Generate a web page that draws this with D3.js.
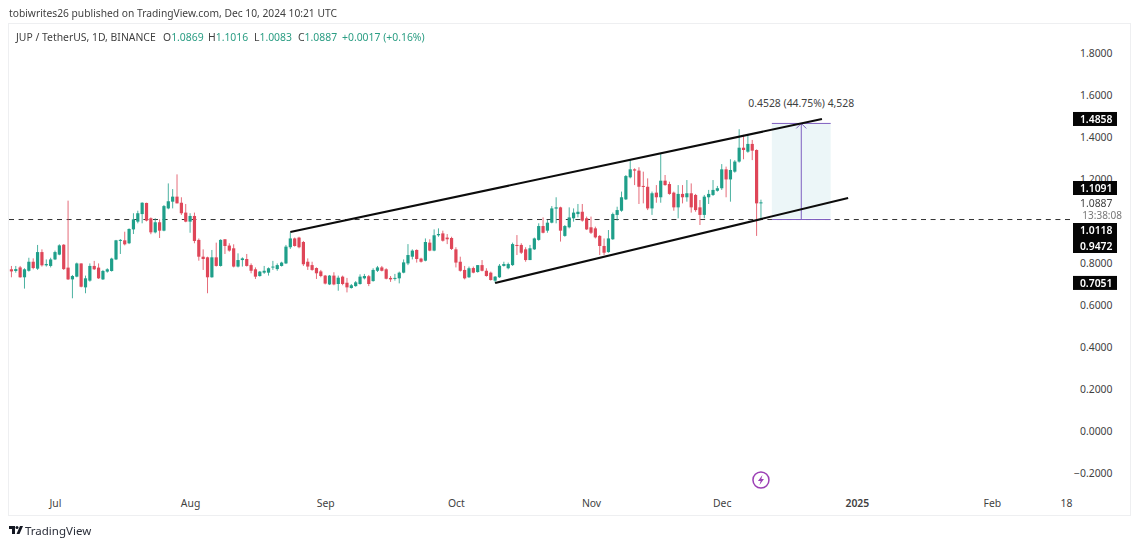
<!DOCTYPE html>
<html><head><meta charset="utf-8">
<style>
html,body{margin:0;padding:0;background:#fff;width:1140px;height:547px;overflow:hidden}
svg{display:block;font-family:"Noto Sans",sans-serif;filter:blur(.3px)}
</style>
<script src="https://cdn.jsdelivr.net/npm/d3@7"></script>
</head><body><svg id="c" width="1140" height="547"></svg>
<script>
const firstCandle = "2024-06-21";
const opens = [.770,.762,.779,.732,.763,.806,.773,.852,.789,.786,.817,.840,.887,.778,.722,.735,.798,.684,.716,.786,
.778,.722,.759,.762,.817,.908,.908,.894,.960,.997,1.033,1.086,1.013,.946,.994,.954,1.060,1.092,1.116,1.087,
1.040,.997,1.024,.910,.830,.827,.732,.827,.786,.913,.883,.870,.783,.814,.819,.790,.770,.738,.754,.754,
.779,.771,.786,.798,.875,.917,.921,.900,.806,.790,.776,.760,.740,.698,.740,.700,.735,.706,.681,.690,
.700,.727,.737,.714,.763,.779,.770,.729,.725,.727,.754,.798,.830,.862,.821,.811,.897,.859,.932,.941,
.921,.919,.865,.806,.767,.732,.776,.757,.790,.763,.754,.716,.732,.786,.775,.790,.886,.886,.865,.814,
.865,.910,.976,.954,.992,1.059,1.065,.929,.970,1.013,1.033,1.044,1.013,.970,.965,.929,.881,.852,.913,1.029,
1.049,1.103,1.208,1.246,1.240,1.167,1.163,1.060,1.135,1.113,1.192,1.176,1.135,1.065,1.129,1.113,1.132,1.124,1.065,1.029,
1.113,1.124,1.144,1.156,1.246,1.198,1.235,1.283,1.349,1.330,1.367,1.338,1.0869];
const highs = [.786,.786,.786,.775,.825,.822,.886,.865,.817,.825,.859,.889,.890,1.097,.743,.802,.798,.740,.798,.810,
.798,.767,.775,.825,.910,.914,.949,.965,1.037,1.049,1.089,1.087,1.017,1.013,1.008,1.076,1.179,1.152,1.222,1.113,
1.081,1.037,1.040,.917,.865,.830,.862,.897,.913,.913,.894,.889,.846,.827,.843,.798,.779,.762,.786,.779,
.810,.798,.806,.886,.946,.921,.925,.905,.822,.806,.779,.767,.743,.743,.756,.740,.740,.729,.700,.714,
.746,.748,.743,.775,.786,.786,.775,.738,.748,.759,.817,.890,.865,.865,.825,.917,.913,.960,.965,.954,
.938,.925,.875,.830,.786,.783,.783,.790,.814,.775,.759,.738,.795,.806,.802,.897,.933,.894,.875,.886,
.921,.989,1.017,1.005,1.071,1.113,1.068,.981,1.065,1.060,1.081,1.081,1.021,1.021,.973,.933,.917,.957,1.040,1.068,
1.140,1.219,1.294,1.251,1.256,1.235,1.203,1.140,1.171,1.322,1.219,1.187,1.140,1.171,1.171,1.195,1.179,1.129,1.100,1.124,
1.148,1.195,1.167,1.271,1.259,1.294,1.290,1.437,1.410,1.410,1.386,1.341,1.1016];
const lows = [.732,.754,.730,.678,.759,.770,.767,.783,.783,.779,.814,.837,.767,.719,.632,.732,.684,.656,.711,.767,
.724,.719,.754,.759,.814,.843,.884,.890,.938,.989,.989,.998,.937,.941,.919,.951,1.056,1.060,1.084,1.029,
.994,.944,.894,.811,.767,.656,.730,.783,.783,.843,.854,.779,.779,.783,.783,.751,.724,.735,.748,.740,
.767,.763,.783,.795,.867,.878,.870,.786,.767,.763,.724,.732,.698,.695,.694,.668,.694,.660,.678,.687,
.697,.722,.690,.711,.757,.760,.722,.710,.716,.703,.751,.790,.817,.802,.802,.808,.856,.856,.925,.902,
.890,.862,.779,.759,.722,.729,.751,.754,.760,.735,.716,.706,.729,.783,.770,.786,.838,.843,.806,.814,
.862,.906,.941,.944,.989,.989,.902,.925,.965,.997,1.017,.997,.957,.938,.917,.838,.838,.849,.910,1.002,
1.044,1.100,1.203,1.171,1.081,1.084,1.052,1.029,1.087,1.087,1.168,1.125,1.049,1.013,1.084,1.092,1.040,1.044,.981,1.013,
1.081,1.119,1.140,1.148,1.113,1.092,1.230,1.278,1.294,1.325,1.290,.929,1.0083];
const closes = [.760,.771,.732,.770,.806,.776,.852,.789,.795,.817,.852,.884,.771,.722,.738,.798,.687,.727,.786,.770,
.727,.762,.770,.821,.908,.910,.889,.962,1.008,1.037,1.087,1.002,.946,.994,.954,1.071,1.094,1.116,1.084,1.037,
.997,1.024,.905,.830,.819,.732,.827,.786,.910,.881,.859,.783,.814,.822,.786,.763,.735,.759,.763,.775,
.783,.790,.802,.878,.917,.881,.875,.794,.783,.767,.751,.738,.702,.740,.698,.730,.700,.684,.694,.708,
.735,.738,.700,.767,.779,.763,.725,.722,.729,.754,.803,.838,.859,.819,.806,.900,.859,.932,.938,.906,
.913,.867,.802,.763,.727,.775,.754,.790,.763,.738,.719,.735,.787,.795,.795,.890,.881,.849,.814,.870,
.917,.976,.944,.992,1.060,1.065,.954,.976,1.017,1.040,1.044,1.002,.960,.944,.922,.881,.849,.917,1.033,1.052,
1.113,1.214,1.246,1.240,1.163,1.163,1.060,1.132,1.113,1.192,1.171,1.129,1.065,1.129,1.113,1.132,1.065,1.052,1.029,1.116,
1.129,1.148,1.156,1.246,1.198,1.243,1.283,1.349,1.338,1.367,1.335,1.084,1.0887];

const priceTicks = [1.8,1.6,1.4,1.2,0.8,0.6,0.4,0.2,0,-0.2];
const timeTicks = ["2024-07-01","2024-08-01","2024-09-01","2024-10-01","2024-11-01","2024-12-01","2025-01-01","2025-02-01","2025-02-18"];
const timeLabels = ["Jul","Aug","Sep","Oct","Nov","Dec","2025","Feb","18"];
const upperChannel = [["2024-08-24",0.9472],["2024-12-24",1.4858]];
const lowerChannel = [["2024-10-10",0.7051],["2024-12-30",1.1091]];
const measureFrom = 1.0118, measureTo = 1.4646;
const measureDates = ["2024-12-12T12:00","2024-12-26T00:00"];
const lastClose = 1.0887;

const parse = s => new Date(s.length>10 ? s : s+"T00:00");
const x = d3.scaleTime().domain([parse("2024-07-01"),parse("2025-02-18")]).range([55,1066]);
const y = d3.scaleLinear().domain([-0.2,1.8]).range([473,53]);
const svg = d3.select("#c");
const GREEN="#1f9f8a", RED="#df4658", INK="#3f3f3f";

// panel frame
svg.append("rect").attr("x",8.5).attr("y",23.5).attr("width",1122).attr("height",492)
  .attr("fill","#fff").attr("stroke","#eeeff1");

// measure box
const mx0=x(parse(measureDates[0])), mx1=x(parse(measureDates[1])), mxm=(mx0+mx1)/2;
svg.append("rect").attr("x",mx0).attr("width",mx1-mx0).attr("y",y(measureTo)).attr("height",y(measureFrom)-y(measureTo))
  .attr("fill","#ecf6f8");

// dashed level
svg.append("line").attr("x1",9).attr("x2",1073).attr("y1",y(measureFrom)+1).attr("y2",y(measureFrom)+1)
  .attr("stroke","#333").attr("stroke-width",1).attr("stroke-dasharray","5,4.6");

// candles
const rows = d3.range(opens.length).map(i=>({
  date:d3.timeDay.offset(parse(firstCandle),i),o:opens[i],h:highs[i],l:lows[i],c:closes[i]}));
const g = svg.append("g");
g.selectAll("line.w").data(rows).join("line").attr("class","w")
  .attr("x1",d=>x(d.date)).attr("x2",d=>x(d.date)).attr("y1",d=>y(d.h)).attr("y2",d=>y(d.l))
  .attr("stroke",d=>d.c>=d.o?GREEN:RED).attr("stroke-opacity",.8).attr("stroke-width",1);
g.selectAll("rect").data(rows).join("rect")
  .attr("x",d=>x(d.date)-1.6).attr("width",3.2)
  .attr("y",d=>Math.min(y(d.o),y(d.c))).attr("height",d=>Math.max(1,Math.abs(y(d.o)-y(d.c))))
  .attr("fill",d=>d.c>=d.o?GREEN:RED);

// measure lines
const P="#7e5fc0";
[[measureTo,0],[measureFrom,1]].forEach(v=>svg.append("line").attr("x1",mx0).attr("x2",mx1).attr("y1",y(v[0])+v[1]).attr("y2",y(v[0])+v[1]).attr("stroke",P).attr("stroke-width",1));
svg.append("line").attr("x1",mxm).attr("x2",mxm).attr("y1",y(measureTo)).attr("y2",y(measureFrom)+1).attr("stroke",P).attr("stroke-width",1);
svg.append("path").attr("d",`M${mxm-5},${y(measureTo)+5}L${mxm},${y(measureTo)}L${mxm+5},${y(measureTo)+5}`).attr("fill","none").attr("stroke",P);
svg.append("text").attr("x",mxm).attr("y",107).attr("text-anchor","middle").attr("font-size",10.4).attr("fill",INK).text("0.4528 (44.75%) 4,528");

// channel
const ln = d3.line().x(d=>x(parse(d[0]))).y(d=>y(d[1]));
[upperChannel,lowerChannel].forEach(c=>svg.append("path").attr("d",ln(c)).attr("fill","none").attr("stroke","#0c0c0c").attr("stroke-width",2.1));

// price axis
const ay = svg.append("g").attr("transform","translate(1073,0)")
  .call(d3.axisRight(y).tickValues(priceTicks).tickSize(0).tickFormat(d3.format(".4f")));
ay.select(".domain").remove();
ay.selectAll("text").attr("x",39.5).attr("text-anchor","end").attr("font-size",10.4).attr("fill",INK)
  .style("font-family",'"Noto Sans",sans-serif');

// time axis
const ax = svg.append("g").attr("transform","translate(0,497)")
  .call(d3.axisBottom(x).tickValues(timeTicks.map(parse)).tickSize(0).tickFormat((d,i)=>timeLabels[i]));
ax.select(".domain").remove();
ax.selectAll("text").attr("font-size",10.4).attr("fill",INK).attr("font-weight",(d,i)=>timeLabels[i]==="2025"?600:400)
  .style("font-family",'"Noto Sans",sans-serif');

// price tags
function tag(cy,h,lines){
  svg.append("rect").attr("x",1073).attr("y",cy-h/2).attr("width",44).attr("height",h).attr("fill","#050505");
  lines.forEach(l=>svg.append("text").attr("x",1112.5).attr("y",l.y+3.7).attr("text-anchor","end")
    .attr("font-size",10.4).attr("font-weight",600).attr("fill","#fff").text(l.t));
}
tag(y(1.4858),14,[{t:"1.4858",y:y(1.4858)}]);
tag(188,14,[{t:"1.1091",y:188}]);
tag(238,30,[{t:"1.0118",y:230.5},{t:"0.9472",y:246}]);
tag(y(0.7051),14,[{t:"0.7051",y:y(0.7051)}]);
svg.append("text").attr("x",1112.5).attr("y",206.5).attr("text-anchor","end").attr("font-size",10.4).attr("fill",INK).text(d3.format(".4f")(lastClose));
svg.append("text").attr("x",1122).attr("y",218.5).attr("text-anchor","end").attr("font-size",10).attr("fill","#777").text("13:38:08");

// header
svg.append("text").attr("x",9).attr("y",17).attr("font-size",10.25).attr("fill",INK).text("tobiwrites26 published on TradingView.com, Dec 10, 2024 10:21 UTC");
const legend = svg.append("text").attr("x",16).attr("y",41).attr("font-size",10.4).attr("fill",INK);
legend.append("tspan").text("JUP / TetherUS, 1D, BINANCE");
[["O","1.0869",163],["H","1.1016",208],["L","1.0083",254],["C","1.0887",298]].forEach(p=>{
  legend.append("tspan").attr("x",p[2]).text(p[0]);
  legend.append("tspan").attr("fill","#2a9d83").text(p[1]);
});
legend.append("tspan").attr("x",342).attr("fill","#2a9d83").text("+0.0017 (+0.16%)");

// lightning badge
const bx=x(d3.timeDay.offset(parse(firstCandle),172)), by=480;
svg.append("circle").attr("cx",bx).attr("cy",by).attr("r",8).attr("fill","#fff").attr("stroke","#9c3fb5").attr("stroke-width",1.5);
svg.append("path").attr("transform",`translate(${bx},${by})`).attr("d","M1.5,-5L-3,1H-.3L-1.5,5L3,-1H.4Z").attr("fill","#9c3fb5");

// brand
const logo=svg.append("g").attr("transform","translate(9,526)").attr("fill","#131722");
logo.append("path").attr("d","M0,0H6V8H3V3H0Z");
logo.append("circle").attr("cx",8).attr("cy",1.6).attr("r",1.5);
logo.append("path").attr("d","M11,0H14L10.5,8H7.5Z");
svg.append("text").attr("x",25).attr("y",535).attr("font-size",11.5).attr("fill","#2a2e39").text("TradingView");
</script></body></html>
